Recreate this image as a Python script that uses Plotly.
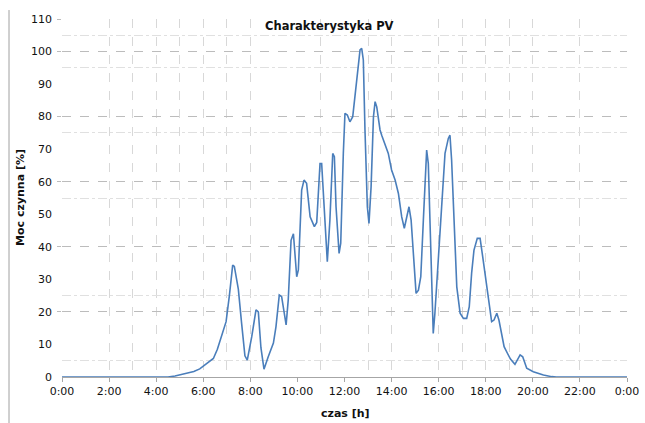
import plotly.graph_objects as go

# time of day in hours, and active power in %
hours = [0, 4.5, 4.8, 5.0, 5.3, 5.6, 5.85, 6.0, 6.2, 6.43, 6.6, 6.75, 6.97, 7.11, 7.25, 7.32,
         7.49, 7.63, 7.77, 7.87, 8.06, 8.24, 8.34, 8.45, 8.58, 8.76, 8.98, 9.09, 9.23, 9.33,
         9.52, 9.61, 9.73, 9.83, 9.97, 10.04, 10.18, 10.28, 10.39, 10.54, 10.72, 10.82, 10.96,
         11.03, 11.17, 11.27, 11.38, 11.5, 11.57, 11.64, 11.77, 11.84, 11.95, 12.02, 12.12,
         12.23, 12.35, 12.45, 12.59, 12.66, 12.73, 12.8, 12.87, 12.97, 13.04, 13.13, 13.23,
         13.3, 13.37, 13.51, 13.58, 13.72, 13.86, 14.0, 14.15, 14.29, 14.43, 14.54, 14.64,
         14.74, 14.83, 14.95, 15.04, 15.14, 15.24, 15.35, 15.49, 15.56, 15.66, 15.77, 15.84,
         15.98, 16.13, 16.27, 16.41, 16.48, 16.55, 16.65, 16.77, 16.91, 17.05, 17.19, 17.3,
         17.4, 17.5, 17.64, 17.76, 17.87, 18.01, 18.11, 18.25, 18.35, 18.47, 18.56, 18.68,
         18.78, 18.92, 19.05, 19.24, 19.46, 19.57, 19.74, 20.02, 20.45, 20.8, 21.0, 24.0]
power = [0, 0, 0.3, 0.7, 1.2, 1.7, 2.5, 3.3, 4.2, 5.7, 8.5, 12, 17, 25, 34.4, 34,
         27, 16.5, 6.5, 5.2, 12.4, 20.6, 20, 9, 2.4, 6.2, 10.4, 15.5, 25.2, 24.7,
         16, 23.7, 42, 44, 30.8, 32.9, 57.4, 60.5, 59.5, 49.2, 46.2, 47.5, 65.6,
         65.6, 48.2, 35.4, 48.2, 68.7, 67.7, 52.3, 38, 41.1, 68.7, 81, 80.5,
         78.4, 80, 86.1, 95.3, 100.5, 101, 97.4, 75.9, 52.3, 47.2, 58.5, 80,
         84.6, 83, 75.9, 74.3, 71.8, 68.7, 63.6, 60.5, 56.4, 49.2, 45.7, 49.2,
         52.3, 48.2, 33.9, 25.7, 26.7, 30.8, 48.2, 69.7, 65.6, 40, 13.4, 19.6,
         34.9, 54.4, 68.7, 73.3, 74.3, 66.7, 47.2, 27.7, 19.6, 18, 18, 21.6,
         31.9, 39, 42.6, 42.6, 37, 29.8, 24.7, 17, 17.5, 19.6, 17.5, 12.4,
         9.3, 7.3, 5.5, 3.9, 6.8, 6.2, 2.7, 1.6, 0.6, 0.1, 0, 0]

x_tickvals = [0, 2, 4, 6, 8, 10, 12, 14, 16, 18, 20, 22, 24]
x_ticktext = ["0:00", "2:00", "4:00", "6:00", "8:00", "10:00", "12:00", "14:00",
              "16:00", "18:00", "20:00", "22:00", "0:00"]
y_tickvals = [0, 10, 20, 30, 40, 50, 60, 70, 80, 90, 100, 110]
x_gridvals = [2, 3, 4, 5, 6, 7, 8, 11, 13, 14, 16, 17, 18, 19, 20, 22]
y_gridvals_dash = [20, 40, 60, 80, 100, 110]
y_gridvals_dot = [5, 25, 55, 75, 95, 105]

title_text = "Charakterystyka PV"
y_title = "Moc czynna [%]"
x_title = "czas [h]"

FONT = "DejaVu Sans"

fig = go.Figure()
fig.add_trace(go.Scatter(x=hours, y=power, mode="lines",
                         line=dict(color="#4a7ebb", width=1.6),
                         showlegend=False, hoverinfo="skip"))
fig.add_trace(go.Scatter(x=[None], y=[None], xaxis="x", yaxis="y2",
                         showlegend=False, hoverinfo="skip"))

fig.update_layout(
    width=645, height=423,
    margin=dict(l=62, r=18, t=19, b=46, autoexpand=False),
    paper_bgcolor="white", plot_bgcolor="white",
    font=dict(family=FONT, size=11, color="#111111"),
    xaxis=dict(range=[0, 24], tickvals=x_tickvals, ticktext=x_ticktext,
               showgrid=False, zeroline=False, showline=True, linecolor="#a6a6a6",
               linewidth=1, ticks="outside", ticklen=4, tickcolor="#a6a6a6",
               automargin=False,
               tickfont=dict(family=FONT, size=11, color="#111111"),
               minor=dict(tickvals=x_gridvals, showgrid=True, gridcolor="#d8d8d8",
                          griddash="dash", gridwidth=1, ticks="")),
    yaxis=dict(range=[0, 110], tickvals=y_tickvals, showgrid=False, zeroline=False,
               showline=False, ticks="", ticklabelstandoff=9, automargin=False,
               tickfont=dict(family=FONT, size=11, color="#111111"),
               minor=dict(tickvals=y_gridvals_dash, showgrid=True, gridcolor="#bcbcbc",
                          griddash="dash", gridwidth=1, ticks="outside", ticklen=4,
                          tickcolor="#bcbcbc")),
    yaxis2=dict(range=[0, 110], overlaying="y", tickvals=y_gridvals_dot,
                showticklabels=False, showgrid=True, gridcolor="#e0e0e0",
                griddash="dashdot", gridwidth=1, zeroline=False, ticks="", automargin=False),
    annotations=[
        dict(text=title_text, xref="paper", yref="paper", x=0.4726, y=0.98,
             xanchor="center", yanchor="middle", showarrow=False,
             font=dict(family=FONT, size=11.5, color="#111111", weight="bold")),
        dict(text=y_title, xref="paper", yref="paper", x=-0.0726, y=0.503,
             xanchor="center", yanchor="middle", showarrow=False, textangle=-90,
             font=dict(family=FONT, size=11, color="#111111", weight="bold")),
        dict(text=x_title, xref="paper", yref="paper", x=0.501, y=-0.1006,
             xanchor="center", yanchor="middle", showarrow=False,
             font=dict(family=FONT, size=11, color="#111111", weight="bold")),
    ],
    shapes=[
        dict(type="line", xref="paper", yref="paper", x0=-0.0938, x1=-0.0938,
             y0=-0.13, y1=1.025, line=dict(color="#a0a0a0", width=1)),
    ],
)

fig.write_html("out.html",
               config={"displayModeBar": False},
               post_script="document.body.style.margin='0';"
                           "document.body.style.overflow='hidden';")
